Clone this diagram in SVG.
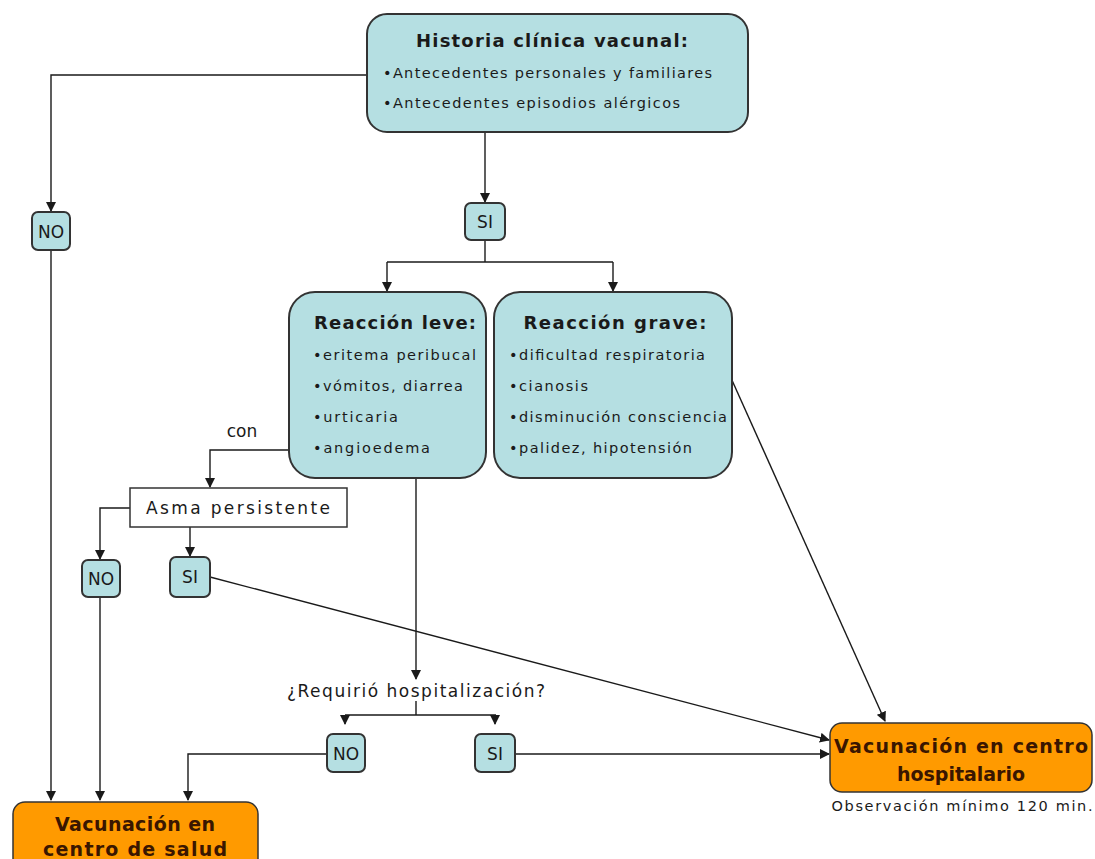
<svg xmlns="http://www.w3.org/2000/svg" width="1095" height="859" viewBox="0 0 1095 859">
<style>
text{font-family:"DejaVu Sans","Liberation Sans",sans-serif;fill:#1a1a1a}
.teal{fill:#b5dfe2;stroke:#333;stroke-width:2}
.org{fill:#ff9a00;stroke:#333;stroke-width:1.5}
.plain{fill:#fff;stroke:#333;stroke-width:1.5}
.t{font-weight:bold;font-size:18px}
.i{font-size:14.5px}
.s{font-size:17px}
.o{font-weight:bold;font-size:19px;fill:#3a1600}
.c{fill:none;stroke:#1a1a1a;stroke-width:1.4}
</style>
<defs>
<marker id="a" markerWidth="10" markerHeight="10" refX="9" refY="5" orient="auto" markerUnits="userSpaceOnUse">
<path d="M0,0 L10,5 L0,10 z" fill="#1a1a1a"/>
</marker>
</defs>
<rect width="1095" height="859" fill="#fff"/>
<g id="connectors">
<path class="c" d="M367,75 H51 V211" marker-end="url(#a)"/>
<path class="c" d="M51,250 V800" marker-end="url(#a)"/>
<path class="c" d="M485,132 V202" marker-end="url(#a)"/>
<path class="c" d="M485,240 V262"/>
<path class="c" d="M387,262 H613"/>
<path class="c" d="M387,262 V291" marker-end="url(#a)"/>
<path class="c" d="M613,262 V291" marker-end="url(#a)"/>
<path class="c" d="M289,450 H210 V487" marker-end="url(#a)"/>
<path class="c" d="M130,508 H100 V559" marker-end="url(#a)"/>
<path class="c" d="M190,527 V556" marker-end="url(#a)"/>
<path class="c" d="M100,597 V800" marker-end="url(#a)"/>
<path class="c" d="M210,577 L829,740" marker-end="url(#a)"/>
<path class="c" d="M416,478 V679" marker-end="url(#a)"/>
<path class="c" d="M416,701 V715 M345,715 H496"/>
<path class="c" d="M345,715 V724" marker-end="url(#a)"/>
<path class="c" d="M495,715 V724" marker-end="url(#a)"/>
<path class="c" d="M327,754 H188 V800" marker-end="url(#a)"/>
<path class="c" d="M515,754 H829" marker-end="url(#a)"/>
<path class="c" d="M731,378 L885,721" marker-end="url(#a)"/>
</g>
<g id="historia">
<rect class="teal" x="367" y="14" width="381" height="118" rx="20"/>
<text class="t" x="552" y="47" text-anchor="middle" textLength="272">Historia clínica vacunal:</text>
<text class="i" x="383" y="78" textLength="329">•Antecedentes personales y familiares</text>
<text class="i" x="383" y="108" textLength="297">•Antecedentes episodios alérgicos</text>
</g>
<g id="no1">
<rect class="teal" x="32" y="212" width="38" height="38" rx="6"/>
<text class="s" x="51" y="238" text-anchor="middle">NO</text>
</g>
<g id="si1">
<rect class="teal" x="465" y="203" width="40" height="37" rx="6"/>
<text class="s" x="485" y="228" text-anchor="middle">SI</text>
</g>
<g id="leve">
<rect class="teal" x="289" y="292" width="197" height="186" rx="26"/>
<text class="t" x="395" y="329" text-anchor="middle" textLength="162">Reacción leve:</text>
<text class="i" x="313" y="360" textLength="163">•eritema peribucal</text>
<text class="i" x="313" y="391" textLength="150">•vómitos, diarrea</text>
<text class="i" x="313" y="422" textLength="85">•urticaria</text>
<text class="i" x="313" y="453" textLength="117">•angioedema</text>
</g>
<g id="grave">
<rect class="teal" x="494" y="292" width="238" height="186" rx="26"/>
<text class="t" x="615" y="329" text-anchor="middle" textLength="183">Reacción grave:</text>
<text class="i" x="509" y="360" textLength="196">•dificultad respiratoria</text>
<text class="i" x="509" y="391" textLength="79">•cianosis</text>
<text class="i" x="509" y="422" textLength="218">•disminución consciencia</text>
<text class="i" x="509" y="453" textLength="183">•palidez, hipotensión</text>
</g>
<g id="con">
<text class="s" x="242" y="437" text-anchor="middle">con</text>
</g>
<g id="asma">
<rect class="plain" x="130" y="488" width="217" height="39"/>
<text class="s" x="238" y="514" text-anchor="middle" textLength="184">Asma persistente</text>
</g>
<g id="no2">
<rect class="teal" x="82" y="560" width="38" height="37" rx="6"/>
<text class="s" x="101" y="585" text-anchor="middle">NO</text>
</g>
<g id="si2">
<rect class="teal" x="170" y="557" width="40" height="40" rx="6"/>
<text class="s" x="190" y="583" text-anchor="middle">SI</text>
</g>
<g id="requirio">
<text class="s" x="416" y="697" text-anchor="middle" textLength="258">¿Requirió hospitalización?</text>
</g>
<g id="no3">
<rect class="teal" x="327" y="734" width="38" height="38" rx="6"/>
<text class="s" x="346" y="760" text-anchor="middle">NO</text>
</g>
<g id="si3">
<rect class="teal" x="475" y="734" width="40" height="38" rx="6"/>
<text class="s" x="495" y="760" text-anchor="middle">SI</text>
</g>
<g id="hospitalario">
<rect class="org" x="830" y="723" width="262" height="69" rx="12"/>
<text class="o" x="961" y="753" text-anchor="middle" textLength="254">Vacunación en centro</text>
<text class="o" x="961" y="781" text-anchor="middle" textLength="128">hospitalario</text>
<text class="i" x="962" y="811" text-anchor="middle" textLength="261">Observación mínimo 120 min.</text>
</g>
<g id="salud">
<rect class="org" x="13" y="802" width="245" height="70" rx="12"/>
<text class="o" x="135" y="831" text-anchor="middle" textLength="160">Vacunación en</text>
<text class="o" x="135" y="856" text-anchor="middle" textLength="184">centro de salud</text>
</g>
</svg>
